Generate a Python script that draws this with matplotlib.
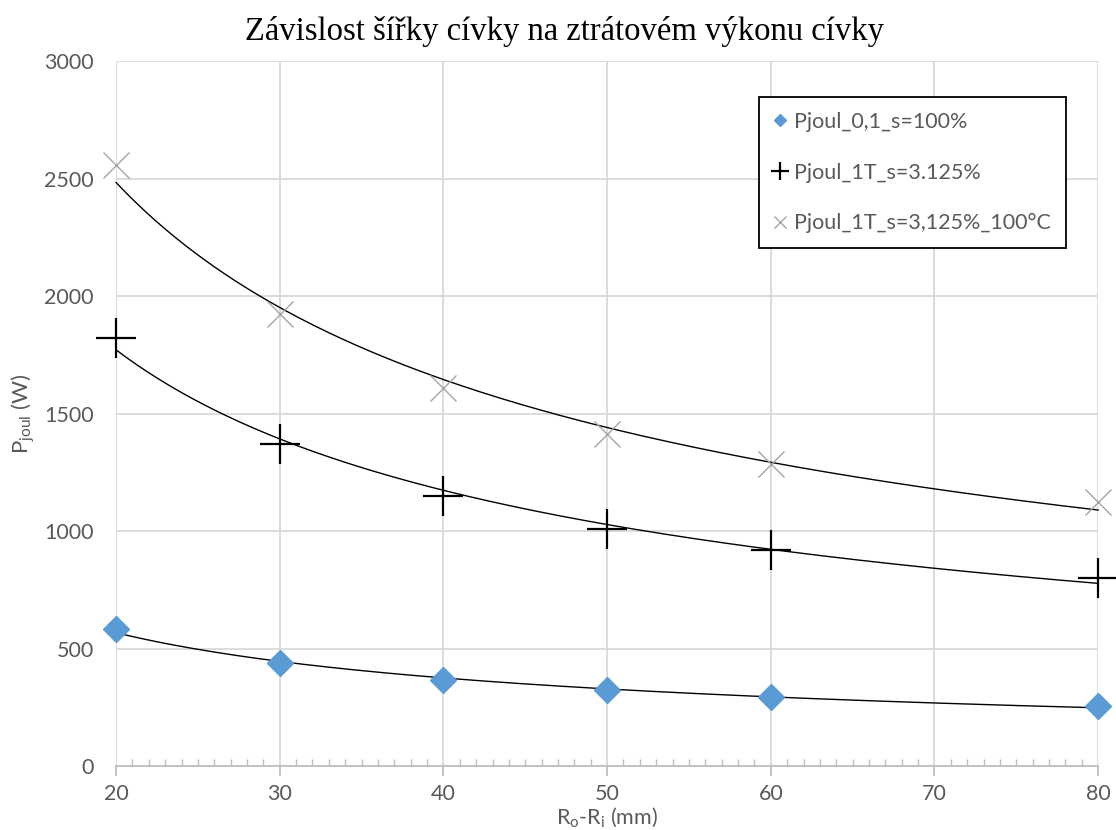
import matplotlib

matplotlib.use("Agg")
import matplotlib.pyplot as plt
import numpy as np
from matplotlib.ticker import MultipleLocator

# data
width_mm = [20, 30, 40, 50, 60, 80]
pjoul_01 = [583, 440, 366, 323, 294, 255]
pjoul_1t = [1822, 1370, 1150, 1009, 919, 801]
pjoul_1t_100c = [2557, 1923, 1607, 1413, 1287, 1125]

labels = ["Pjoul_0,1_s=100%", "Pjoul_1T_s=3.125%", "Pjoul_1T_s=3,125%_100°C"]

BLUE, GREY, TXT, GRID, AXIS = "#5b9bd5", "#a5a5a5", "#595959", "#d9d9d9", "#bfbfbf"
UI = ["Lato", "DejaVu Sans"]
FS = 15.5


def power_trend(x, y):
    # Excel style power trendline: linear fit in log-log space
    b, a = np.polyfit(np.log(x), np.log(y), 1)
    xs = np.linspace(min(x), max(x), 200)
    return xs, np.exp(a) * xs ** b


fig = plt.figure(figsize=(11.16, 8.3), dpi=100)
ax = fig.add_axes([0.104, 0.077, 0.880, 0.8495])

x = np.array(width_mm, dtype=float)
for y in (pjoul_01, pjoul_1t, pjoul_1t_100c):
    xs, ys = power_trend(x, np.array(y, dtype=float))
    ax.plot(xs, ys, color="black", lw=1.0, zorder=3)

ax.plot(x, pjoul_01, ls="none", marker="D", ms=13, color=BLUE, mec=BLUE, zorder=4, label=labels[0])
ax.plot(x, pjoul_1t, ls="none", marker="+", ms=29, mew=1.6, color="black", zorder=4, label=labels[1])
ax.plot(x, pjoul_1t_100c, ls="none", marker="x", ms=19, mew=1.0, color=GREY, zorder=4, label=labels[2])

ax.set_xlim(20, 80)
ax.set_ylim(0, 3000)
ax.xaxis.set_major_locator(MultipleLocator(10))
ax.xaxis.set_minor_locator(MultipleLocator(1))
ax.yaxis.set_major_locator(MultipleLocator(500))
ax.grid(True, which="major", color=GRID, lw=1.3, zorder=0)
ax.set_axisbelow(True)
for s in ("top", "right", "left"):
    ax.spines[s].set_visible(False)
ax.spines["bottom"].set_color(AXIS)
ax.spines["bottom"].set_linewidth(1.3)
ax.tick_params(axis="x", which="major", direction="out", length=7, width=1.3, color=AXIS,
               labelsize=FS, labelcolor=TXT, pad=6)
ax.tick_params(axis="x", which="minor", direction="in", length=5, width=1.0, color=AXIS)
ax.tick_params(axis="y", length=0, labelsize=FS, labelcolor=TXT, pad=16)
for lab in ax.get_xticklabels() + ax.get_yticklabels():
    lab.set_family(UI)
for ln in ax.lines:
    ln.set_clip_on(False)

ax.set_xlabel(r"R$_\mathregular{o}$-R$_\mathregular{i}$ (mm)", fontsize=FS, color=TXT,
              family=UI, labelpad=1.5)
ax.set_ylabel(r"P$_\mathregular{joul}$ (W)", fontsize=16, color=TXT, family=UI, labelpad=5)

fig.text(0.506, 0.962, "Závislost šířky cívky na ztrátovém výkonu cívky", ha="center", va="center",
         fontsize=23.5, family="Liberation Serif", color="black")

leg = ax.legend(loc="upper left", bbox_to_anchor=(0.655, 0.949), frameon=True, fancybox=False,
                edgecolor="black", framealpha=1.0, labelspacing=1.42, handlelength=0.55,
                handletextpad=0.35, borderpad=0.7, borderaxespad=0, markerscale=0.45,
                prop={"family": UI, "size": FS})
leg.get_frame().set_linewidth(1.3)
for t in leg.get_texts():
    t.set_color(TXT)

fig.savefig("out.png", dpi=100, facecolor="white")
